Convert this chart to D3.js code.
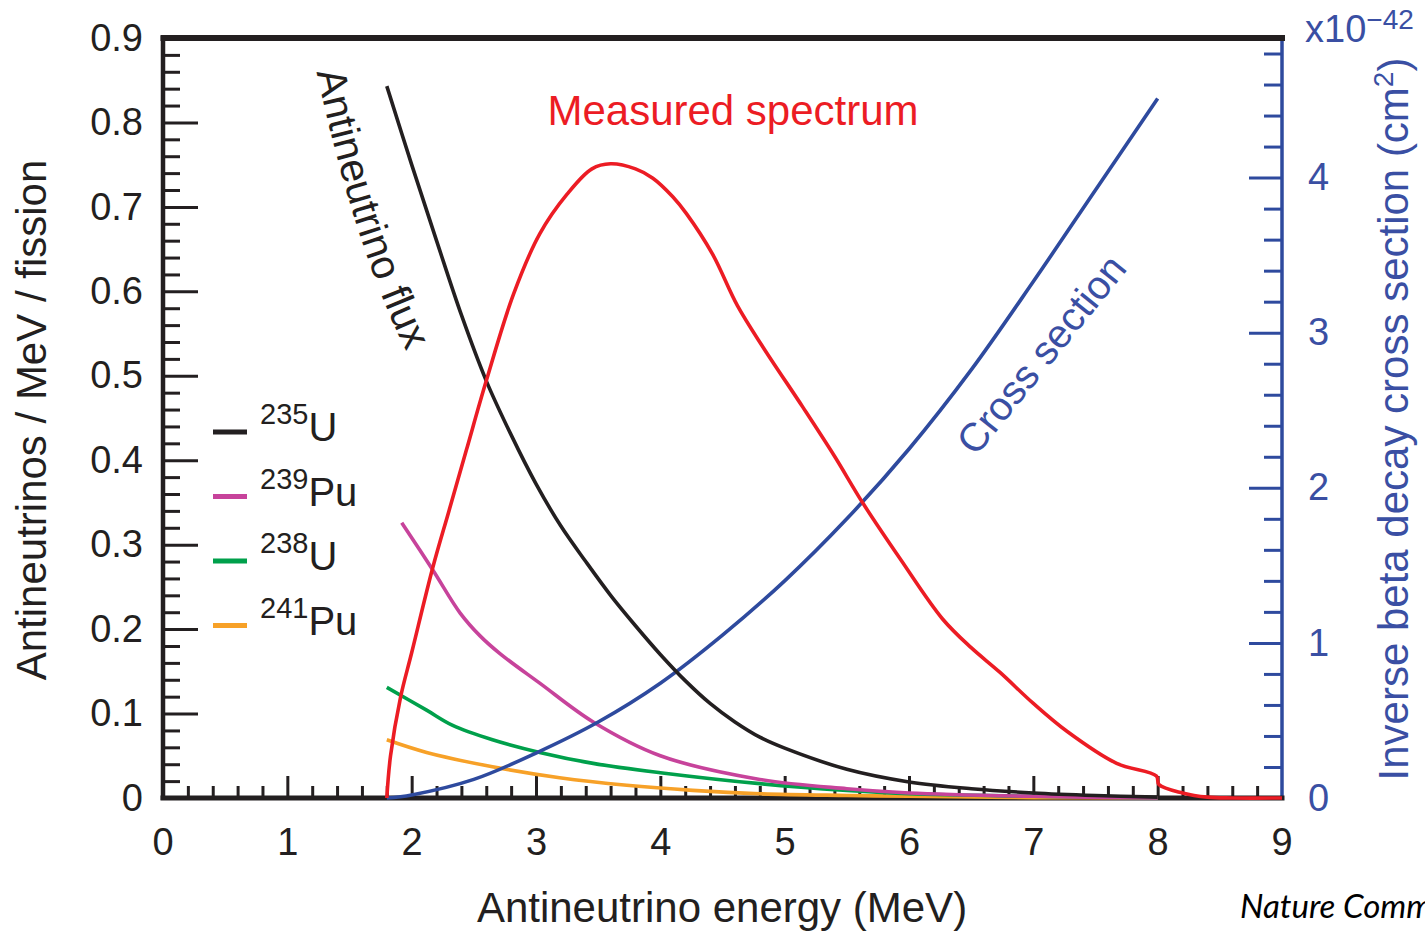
<!DOCTYPE html>
<html><head><meta charset="utf-8">
<script src="https://cdn.jsdelivr.net/npm/d3@7"></script>
<style>
html,body{margin:0;padding:0;background:#fff;}
svg{display:block;}
text{font-family:"Liberation Sans",Arial,Helvetica,sans-serif;}
</style></head><body>
<svg id="chart" width="1425" height="933"></svg>
<script>
// ---------------- data ----------------
const xTicks = [0,1,2,3,4,5,6,7,8,9];
const xTickLabels = ["0","1","2","3","4","5","6","7","8","9"];
const leftTicks = [0,0.1,0.2,0.3,0.4,0.5,0.6,0.7,0.8];
const leftTickLabels = ["0","0.1","0.2","0.3","0.4","0.5","0.6","0.7","0.8"];
const topLeftLabel = "0.9";
const rightTicks = [0,1,2,3,4];
const rightTickLabels = ["0","1","2","3","4"];

// Antineutrino flux per fission (left axis)
const u235Energy = [1.80,2.00,2.20,2.40,2.60,2.80,3.00,3.20,3.40,3.60,3.80,4.00,4.20,4.40,4.60,4.80,5.00,5.50,6.00,6.50,7.00,7.50,8.00];
const u235Flux   = [0.843,0.750,0.660,0.572,0.494,0.430,0.372,0.322,0.280,0.240,0.204,0.170,0.139,0.112,0.090,0.072,0.059,0.034,0.019,0.011,0.006,0.003,0.001];

const pu239Energy = [1.92,2.17,2.39,2.55,2.71,3.03,3.46,4.00,4.80,5.50,6.00,7.00,8.00];
const pu239Flux   = [0.326,0.270,0.219,0.192,0.171,0.136,0.090,0.050,0.022,0.011,0.006,0.002,0.000];

const u238Energy = [1.80,2.12,2.33,2.65,3.03,3.46,4.00,4.80,5.50,6.00,7.00,8.00];
const u238Flux   = [0.131,0.104,0.086,0.069,0.054,0.041,0.030,0.017,0.009,0.005,0.002,0.000];

const pu241Energy = [1.80,2.12,2.65,3.19,3.73,4.26,4.80,5.50,6.00,7.00,8.00];
const pu241Flux   = [0.069,0.054,0.037,0.024,0.015,0.009,0.005,0.003,0.002,0.0005,0.000];

// Measured spectrum (left axis units)
const specEnergy = [1.80,1.83,1.91,2.00,2.17,2.30,2.44,2.60,2.82,3.03,3.25,3.45,3.60,3.80,3.94,4.10,4.21,4.42,4.62,4.83,5.15,5.40,5.63,5.93,6.27,6.50,6.73,7.00,7.27,7.67,7.99,8.01,8.20,8.40,8.60,9.00];
const specValue  = [0.000,0.050,0.119,0.172,0.273,0.340,0.412,0.494,0.597,0.668,0.715,0.745,0.751,0.745,0.734,0.712,0.692,0.644,0.583,0.533,0.462,0.405,0.349,0.283,0.212,0.178,0.149,0.112,0.079,0.041,0.026,0.016,0.006,0.001,0.000,0.000];

// Inverse beta decay cross section, x10^-42 cm^2 (right axis)
const xsecEnergy = [1.80,2.00,2.50,3.00,3.50,4.00,4.50,5.00,5.50,6.00,6.50,7.00,7.50,8.00];
const xsecValue  = [0.00,0.02,0.12,0.29,0.49,0.74,1.05,1.40,1.80,2.25,2.76,3.33,3.92,4.51];

const legendIsotopes = [
  {mass:"235", sym:"U",  color:"#231f20"},
  {mass:"239", sym:"Pu", color:"#c7439b"},
  {mass:"238", sym:"U",  color:"#00a04b"},
  {mass:"241", sym:"Pu", color:"#f7a128"}
];

// ---------------- chart ----------------
const BLACK = "#231f20", RED = "#ec1c24", BLUE = "#2e4a9e", BLUE_TXT = "#3a4fa3";
const TICK_FS = 38;
const svg = d3.select("#chart");
const x  = d3.scaleLinear().domain([0,9]).range([163,1282]);
const y  = d3.scaleLinear().domain([0,0.9]).range([798,38]);
const yR = d3.scaleLinear().domain([0,4.9]).range([798,38]);

function range(a,b,s){const out=[];for(let v=a;v<=b+1e-9;v+=s){out.push(+v.toFixed(4));}return out;}
const leftMinor  = range(0,0.9,0.02).filter(v=>Math.abs(v*10-Math.round(v*10))>1e-6);
const bottomMinor= range(0,9,0.2).filter(v=>Math.abs(v-Math.round(v))>1e-6);
const rightMinor = range(0,4.8,0.2).filter(v=>Math.abs(v-Math.round(v))>1e-6);

function styleAxis(g,lineColor,textColor){
  g.select(".domain").remove();
  g.selectAll(".tick line").attr("stroke",lineColor).attr("stroke-width",3);
  g.selectAll(".tick text").attr("fill",textColor).style("font-size",TICK_FS+"px")
   .style("font-family",'"Liberation Sans",Arial,sans-serif');
}

// left axis
svg.append("g").attr("transform","translate(163,0)")
  .call(d3.axisLeft(y).tickValues(leftMinor).tickSize(-17).tickFormat(""))
  .call(g=>styleAxis(g,BLACK,BLACK));
svg.append("g").attr("transform","translate(163,0)")
  .call(d3.axisLeft(y).tickValues(leftTicks).tickSize(-35).tickSizeOuter(0).tickPadding(20)
        .tickFormat((d,i)=>leftTickLabels[i]))
  .call(g=>styleAxis(g,BLACK,BLACK));
svg.append("text").attr("x",143).attr("y",y(0.9)).attr("dy","0.34em")
  .attr("text-anchor","end").attr("fill",BLACK).style("font-size",TICK_FS+"px").text(topLeftLabel);

// bottom axis
svg.append("g").attr("transform","translate(0,798)")
  .call(d3.axisBottom(x).tickValues(bottomMinor).tickSize(-12).tickFormat(""))
  .call(g=>styleAxis(g,BLACK,BLACK));
svg.append("g").attr("transform","translate(0,798)")
  .call(d3.axisBottom(x).tickValues(xTicks.filter(v=>v>0&&v<9)).tickSize(-22).tickSizeOuter(0).tickPadding(30)
        .tickFormat(d=>xTickLabels[xTicks.indexOf(d)]))
  .call(g=>styleAxis(g,BLACK,BLACK));
[0,9].forEach(v=>{
  svg.append("text").attr("x",x(v)).attr("y",798+30).attr("dy","0.71em")
    .attr("text-anchor","middle").attr("fill",BLACK).style("font-size",TICK_FS+"px")
    .text(xTickLabels[xTicks.indexOf(v)]);
});

// right axis
svg.append("g").attr("transform","translate(1282,0)")
  .call(d3.axisRight(yR).tickValues(rightMinor).tickSize(-18).tickFormat(""))
  .call(g=>styleAxis(g,BLUE,BLUE_TXT));
svg.append("g").attr("transform","translate(1282,0)")
  .call(d3.axisRight(yR).tickValues(rightTicks.filter(v=>v>0)).tickSize(-33).tickSizeOuter(0).tickPadding(26)
        .tickFormat(d=>rightTickLabels[rightTicks.indexOf(d)]))
  .call(g=>styleAxis(g,BLUE,BLUE_TXT));
svg.append("text").attr("x",1282+26).attr("y",yR(0)).attr("dy","0.34em")
  .attr("fill",BLUE_TXT).style("font-size",TICK_FS+"px").text(rightTickLabels[0]);

// axis lines
svg.append("line").attr("x1",1282).attr("x2",1282).attr("y1",y(0.9)).attr("y2",798)
  .attr("stroke",BLUE).attr("stroke-width",3.5);
svg.append("line").attr("x1",163).attr("x2",163).attr("y1",y(0.9)-2).attr("y2",800)
  .attr("stroke",BLACK).attr("stroke-width",4.5);
svg.append("line").attr("x1",160.5).attr("x2",1284.5).attr("y1",798).attr("y2",798)
  .attr("stroke",BLACK).attr("stroke-width",5);
svg.append("line").attr("x1",160.5).attr("x2",1285).attr("y1",y(0.9)).attr("y2",y(0.9))
  .attr("stroke",BLACK).attr("stroke-width",6);

// curves
const lineL = d3.line().x(d=>x(d[0])).y(d=>y(d[1])).curve(d3.curveCatmullRom.alpha(0.5));
const lineR = d3.line().x(d=>x(d[0])).y(d=>yR(d[1])).curve(d3.curveCatmullRom.alpha(0.5));
const zip = (a,b)=>a.map((v,i)=>[v,b[i]]);
const curves = [
  {pts:zip(pu241Energy,pu241Flux), color:legendIsotopes[3].color, gen:lineL},
  {pts:zip(u238Energy,u238Flux),   color:legendIsotopes[2].color, gen:lineL},
  {pts:zip(pu239Energy,pu239Flux), color:legendIsotopes[1].color, gen:lineL},
  {pts:zip(xsecEnergy,xsecValue),  color:BLUE,                   gen:lineR},
  {pts:zip(u235Energy,u235Flux),   color:legendIsotopes[0].color, gen:lineL},
  {pts:zip(specEnergy,specValue),  color:RED,                    gen:lineL}
];
svg.append("g").selectAll("path").data(curves).join("path")
  .attr("d",d=>d.gen(d.pts)).attr("fill","none")
  .attr("stroke",d=>d.color).attr("stroke-width",3.6)
  .attr("stroke-linejoin","round").attr("stroke-linecap","butt");

// legend
const leg = svg.append("g");
legendIsotopes.forEach((d,i)=>{
  const ly = 432 + i*64.5;
  leg.append("line").attr("x1",213).attr("x2",247).attr("y1",ly).attr("y2",ly)
    .attr("stroke",d.color).attr("stroke-width",5);
  const t = leg.append("text").attr("x",260).attr("y",ly+9).attr("fill",BLACK);
  t.append("tspan").style("font-size","29px").attr("dy",-17).text(d.mass);
  t.append("tspan").style("font-size","40px").attr("dy",17).text(d.sym);
});

// axis titles
svg.append("text").attr("x",722).attr("y",922).attr("text-anchor","middle")
  .attr("fill",BLACK).style("font-size","42px").text("Antineutrino energy (MeV)");
svg.append("text").attr("transform","translate(46,420) rotate(-90)").attr("text-anchor","middle")
  .attr("fill",BLACK).style("font-size","42px").text("Antineutrinos / MeV / fission");
const rt = svg.append("text").attr("transform","translate(1408,419) rotate(-90)").attr("text-anchor","middle")
  .attr("fill",BLUE_TXT).style("font-size","42px");
rt.append("tspan").text("Inverse beta decay cross section (cm");
rt.append("tspan").style("font-size","28px").attr("dy",-15).text("2");
rt.append("tspan").attr("dy",15).text(")");

const sc = svg.append("text").attr("x",1305).attr("y",42).attr("fill",BLUE_TXT).style("font-size","38px");
sc.append("tspan").text("x10");
sc.append("tspan").style("font-size","28px").attr("dy",-13).text("\u221242");

// annotations
svg.append("text").attr("x",733).attr("y",125).attr("text-anchor","middle")
  .attr("fill",RED).style("font-size","42px").text("Measured spectrum");

const fluxPath = d3.path();
fluxPath.moveTo(x(1.235), y(0.86));
fluxPath.quadraticCurveTo(x(1.56), y(0.64), x(1.99), y(0.52));
svg.append("defs").append("path").attr("id","fluxpath").attr("d",fluxPath.toString());
svg.append("text").attr("fill",BLACK).style("font-size","41px")
  .append("textPath").attr("href","#fluxpath").text("Antineutrino flux");

svg.append("text").attr("transform",`translate(${x(7.15)},${y(0.515)}) rotate(-51)`)
  .attr("text-anchor","middle").attr("fill",BLUE_TXT).style("font-size","40px").text("Cross section");

svg.append("text").attr("x",1240).attr("y",918).attr("fill","#000")
  .style("font-family","Lato, 'Open Sans', sans-serif").style("font-style","italic")
  .style("font-size","33px").text("Nature Communications");
</script></body></html>
